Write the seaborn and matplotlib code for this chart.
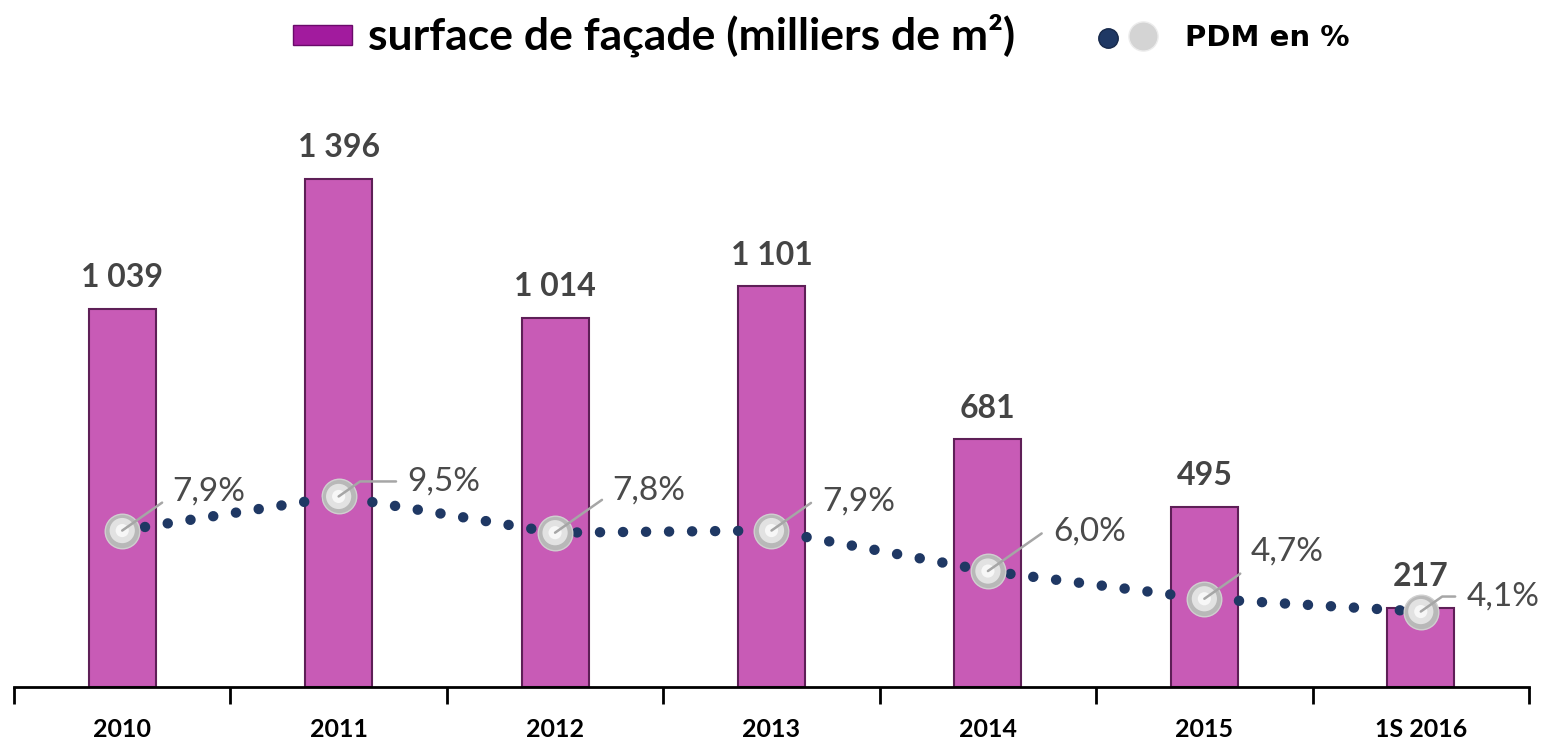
import numpy as np
import pandas as pd
import seaborn as sns
import matplotlib.pyplot as plt
from matplotlib.patches import Rectangle
from matplotlib.lines import Line2D

# données
annees = ['2010', '2011', '2012', '2013', '2014', '2015', '1S 2016']
surface = [1039, 1396, 1014, 1101, 681, 495, 217]      # milliers de m²
pdm = [7.9, 9.5, 7.8, 7.9, 6.0, 4.7, 4.1]              # PDM en %
# décalage des étiquettes % (en pixels) par rapport au point
decal_pdm = [(50, 39), (69, 15), (57, 42), (51, 29), (65, 40), (46, 47), (46, 15)]

sns.set_style('white')
plt.rcParams['font.family'] = ['Lato', 'DejaVu Sans']

df = pd.DataFrame({'annee': annees, 'surface': surface, 'pdm': pdm})
pos = np.arange(len(annees))
PT = 1 / 1.389  # pixels -> points

fig = plt.figure(figsize=(15.42, 7.41), dpi=100)
ax = fig.add_axes([14/1542, 54/741, 1515/1542, 587/741])

# barres
sns.barplot(data=df, x='annee', y='surface', ax=ax, width=0.31,
            color='#c85bb6', saturation=1, edgecolor='#5e1f57', linewidth=1.5)
ax.set_xlim(-0.5, 6.5)
ax.set_ylim(0, 1613)

for i, v in enumerate(surface):
    ax.annotate(f'{v:,}'.replace(',', ' '), (i, v), xytext=(0, 12),
                textcoords='offset points', ha='center', va='bottom',
                fontsize=23, fontweight='bold', color='#444444')

ax.set_xlabel('')
ax.set_ylabel('')
ax.set_yticks([])
for s in ['top', 'left', 'right']:
    ax.spines[s].set_visible(False)
ax.spines['bottom'].set_color('black')
ax.spines['bottom'].set_linewidth(2)
ax.set_xticks(pos)
ax.set_xticklabels(annees, fontsize=18, fontweight='bold', color='black')
ax.set_xticks(np.arange(-0.5, 7, 1), minor=True)
ax.tick_params(axis='x', which='both', bottom=True)
ax.tick_params(axis='x', which='major', length=0, pad=22)
ax.tick_params(axis='x', which='minor', length=12, width=2, color='black',
               direction='out')

# courbe PDM (axe secondaire)
ax2 = ax.twinx()
sns.lineplot(x=pos, y=pdm, ax=ax2, color='#1f3864', linewidth=7.5,
             linestyle=(0, (0.01, 2.2)), dash_capstyle='round')
ax2.scatter(pos, pdm, s=620, color='#b8b8b8', edgecolor='#d0d0d0',
            linewidth=1, zorder=5)
ax2.scatter(pos, pdm, s=330, color='#e2e2e2', edgecolor='none', zorder=6)
ax2.scatter(pos, pdm, s=90, color='#f7f7f7', edgecolor='none', zorder=6)
ax2.set_ylim(0.56, 28.1)
ax2.set_yticks([])
ax2.set_ylabel('')
for s in ax2.spines.values():
    s.set_visible(False)

for i, v in enumerate(pdm):
    dx, dy = decal_pdm[i]
    ax2.annotate(f'{v:.1f}%'.replace('.', ','), (i, v),
                 xytext=(dx * PT, dy * PT), textcoords='offset points',
                 ha='left', va='center', fontsize=24, color='#4a4a4a',
                 zorder=7,
                 arrowprops=dict(arrowstyle='-', color='#a6a6a6', lw=1.8,
                                 relpos=(0, 0.5), shrinkA=6, shrinkB=0,
                                 connectionstyle='angle,angleA=0,angleB=35,rad=0'))

# légende (en haut)
def fx(px):
    return px / 1542

def fy(py):
    return 1 - py / 741

fig.add_artist(Rectangle((fx(293), fy(45)), 59 / 1542, 20 / 741,
                         transform=fig.transFigure, facecolor='#a21b9e',
                         edgecolor='#6a0a6a', linewidth=1))
fig.text(fx(368), fy(35), 'surface de façade (milliers de m²)', fontsize=32,
         fontweight='bold', va='center', ha='left', color='black')
fig.add_artist(Line2D([fx(1108)], [fy(38)], marker='o', markersize=14,
                      markerfacecolor='#1f3864', markeredgecolor='#16284a',
                      transform=fig.transFigure))
fig.add_artist(Line2D([fx(1143)], [fy(36)], marker='o', markersize=21,
                      markerfacecolor='#d4d4d4', markeredgecolor='#ececec',
                      transform=fig.transFigure))
fig.text(fx(1185), fy(38), 'PDM en %', fontsize=21, fontweight='bold',
         family='DejaVu Sans', va='center', ha='left', color='black')

fig.savefig('out.png', dpi=100)
